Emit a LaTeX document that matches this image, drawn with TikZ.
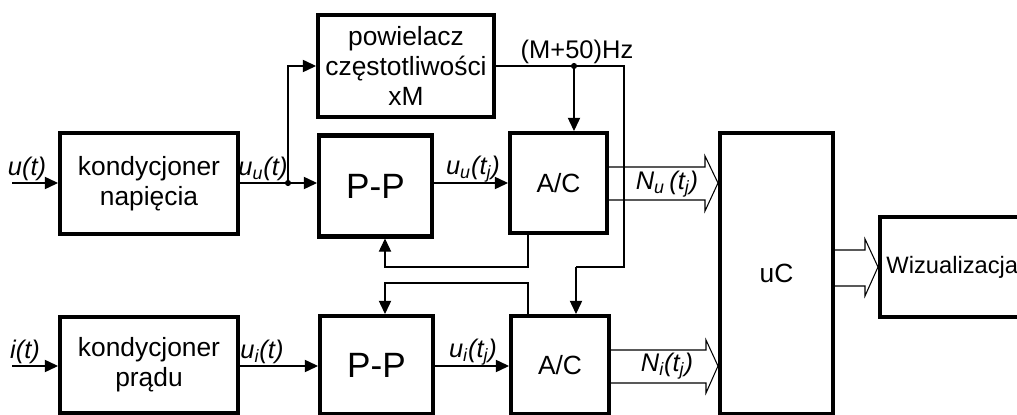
\documentclass[tikz,border=0pt]{standalone}
\usepackage{fontspec}
\setmainfont{Liberation Sans}
\usetikzlibrary{arrows.meta,calc}
\begin{document}
\begin{tikzpicture}[x=0.02cm,y=-0.02cm,
  blk/.style={draw,line width=2.3pt,inner sep=0pt,align=center,font=\fontsize{15}{17}\selectfont},
  wire/.style={line width=0.6pt},
  arr/.style={wire,-{Triangle[length=7.5pt,width=7pt]}},
  hollow/.style={line width=0.6pt,line join=miter},
  lbl/.style={font=\fontsize{14.5}{16}\selectfont\itshape,inner sep=0pt},
  dot/.style={circle,fill,inner sep=0pt,minimum size=3.5pt}]
\useasboundingbox (0,0) rectangle (1017,415);
\clip (0,0) rectangle (1017,415);
% blocks
\node[blk,minimum width=3.56cm,minimum height=2.02cm] (KN) at (149,183.5) {kondycjoner\\napięcia};
\node[blk,minimum width=3.56cm,minimum height=1.92cm] (KP) at (149,365) {kondycjoner\\prądu};
\node[blk,minimum width=3.52cm,minimum height=2.04cm] (POW) at (406,66) {powielacz\\częstotliwości\\xM};
\node[blk,minimum width=2.26cm,minimum height=2.02cm,font=\fontsize{20}{24}\selectfont] (PPu) at (375.5,186) {P-P};
\node[blk,minimum width=1.94cm,minimum height=2.0cm] (ACu) at (558.5,183) {A/C};
\node[blk,minimum width=2.26cm,minimum height=1.96cm,font=\fontsize{20}{24}\selectfont] (PPl) at (376.5,365) {P-P};
\node[blk,minimum width=1.96cm,minimum height=1.96cm] (ACl) at (560,365) {A/C};
\node[blk,minimum width=2.26cm,minimum height=5.62cm] (UC) at (776.5,273.5) {uC};
\node[blk,minimum width=3.0cm,minimum height=2.0cm] (WIZ) at (955,267) {};
\node[inner sep=0pt,anchor=west,font=\fontsize{13.5}{16}\selectfont] (WIZT) at (886,267) {Wizualizacja};
% coordinates
\coordinate (uin) at (12,183);
\coordinate (iin) at (12,366);
\coordinate (J1) at (288,183);
\coordinate (J2) at (574,66);
\coordinate (R1) at (624,66);
% signal lines
\draw[arr] (uin) -- (uin -| KN.west);
\draw[arr] (iin) -- (iin -| KP.west);
\draw[arr] (KN.east |- J1) -- (J1 -| PPu.west);
\draw[arr] (J1) |- (POW.west);
\node[dot] at (J1) {};
\draw[arr] (PPu.east |- J1) -- (J1 -| ACu.west);
\draw[arr] (KP.east |- iin) -- (iin -| PPl.west);
\draw[arr] (PPl.east |- iin) -- (iin -| ACl.west);
\draw[wire] (POW.east) -- (R1) -- (624,267) -- (576,267);
\draw[arr] (576,267) -- (576,0 |- ACl.north);
\draw[arr] (J2) -- (J2 |- ACu.north);
\node[dot] at (J2) {};
\draw[arr] (528,0 |- ACu.south) -- (528,267) -- (385,267) -- (385,0 |- PPu.south);
\draw[arr] (528,0 |- ACl.north) -- (528,283) -- (385,283) -- (385,0 |- PPl.north);
% hollow bus arrows
\draw[hollow] (ACu.east |- 0,167) -- (705,167) -- (705,156) -- (UC.west |- 0,183) -- (705,211) -- (705,200) -- (ACu.east |- 0,200);
\draw[hollow] (ACl.east |- 0,350) -- (706,350) -- (706,340) -- (UC.west |- 0,366) -- (706,393) -- (706,383) -- (ACl.east |- 0,383);
\draw[hollow] (UC.east |- 0,250) -- (865,250) -- (865,239) -- (WIZ.west |- 0,267) -- (865,296) -- (865,286) -- (UC.east |- 0,286);
% labels
\node[lbl] (lu) at (27,169) {u(t)};
\node[lbl] (li) at (25,352) {i(t)};
\node[lbl] (luu) at (263,169) {u\textsubscript{u}(t)};
\node[lbl] (lui) at (262,352) {u\textsubscript{i}(t)};
\node[lbl] (luut) at (473,169) {u\textsubscript{u}(t\textsubscript{j})};
\node[lbl] (luit) at (473,352) {u\textsubscript{i}(t\textsubscript{j})};
\node[lbl] (lnu) at (667,184) {N\textsubscript{u}\,(t\textsubscript{j})};
\node[lbl] (lni) at (667,366) {N\textsubscript{i}(t\textsubscript{j})};
\node[inner sep=0pt,font=\fontsize{14.5}{16}\selectfont] (lhz) at (577,52) {(M+50)Hz};
\end{tikzpicture}
\end{document}
